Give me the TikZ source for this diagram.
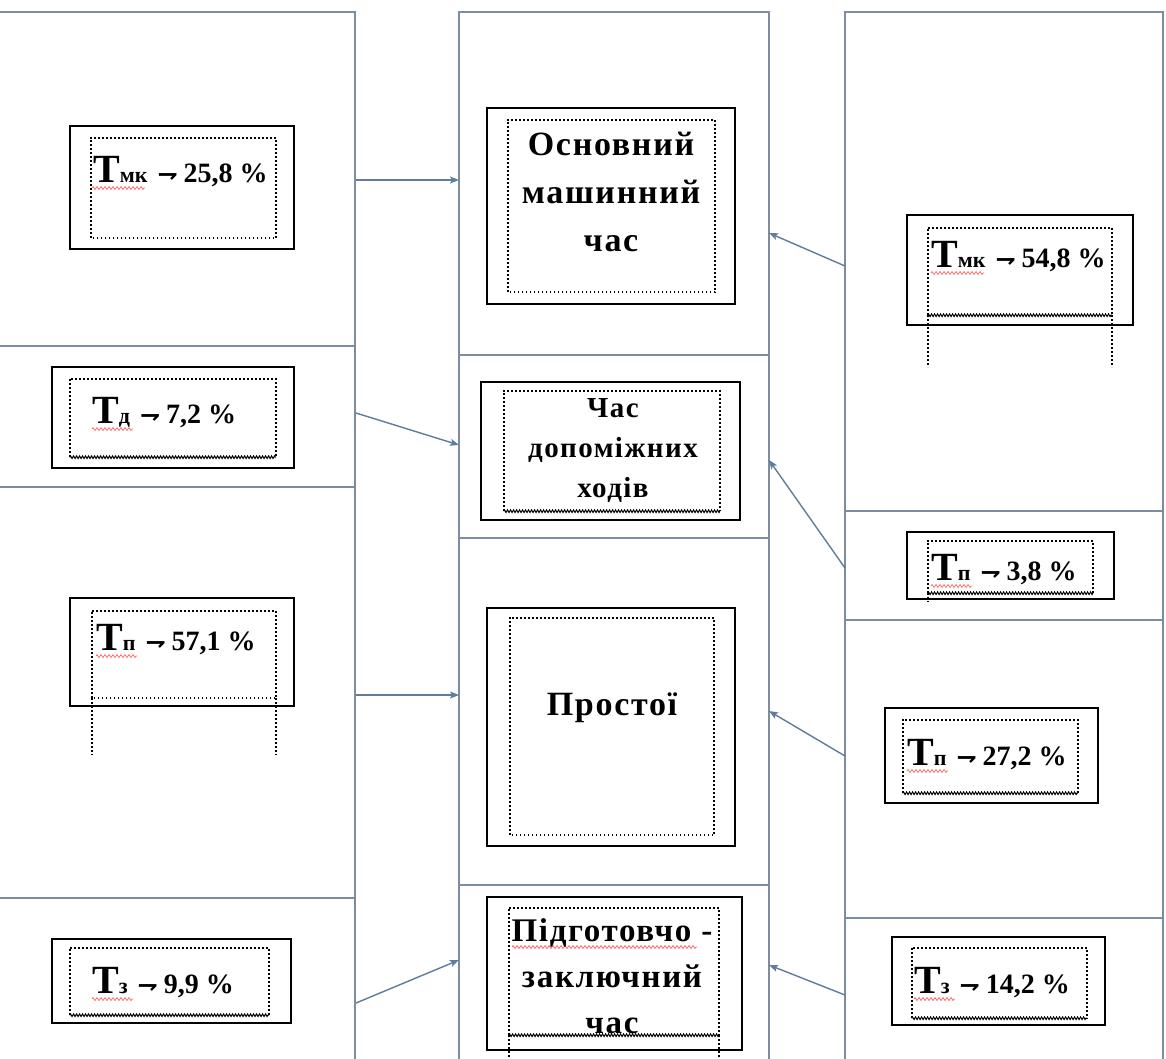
\documentclass[tikz,border=0pt]{standalone}
\usepackage{fontspec}
\setmainfont{Liberation Serif}
\newfontfamily\symf{DejaVu Sans}
\newfontfamily\spacedf[LetterSpace=5]{Liberation Serif}
\usetikzlibrary{arrows.meta,fit,decorations.pathmorphing}
\definecolor{framec}{HTML}{7D8C9E}
\definecolor{connc}{HTML}{5F7D9B}
\tikzset{
  cell/.style={draw=framec,line width=1.6pt,inner sep=0pt},
  obox/.style={draw=black,line width=1.9pt,inner sep=0pt},
  ghost/.style={inner sep=0pt},
  dotbox/.style={draw=black,line width=1.8pt,dash pattern=on 1.8pt off 2.2pt},
  wavy/.style={draw=black,line width=1pt,decorate,decoration={zigzag,segment length=3pt,amplitude=1.3pt}},
  redwavy/.style={draw=red!60!white,line width=0.7pt,decorate,decoration={zigzag,segment length=4pt,amplitude=1.5pt}},
  conn/.style={draw=connc,line width=1.4pt,-{Stealth[length=9pt,width=7pt,inset=2pt]}},
  midtext/.style={align=center,inner sep=0pt},
  lab/.style={anchor=base west,inner sep=0pt,font=\bfseries},
}
\newcommand\tlab[2]{{\fontsize{40}{40}\selectfont Т}{\fontsize{22}{22}\selectfont #1}\hspace{10pt}{\symf\fontsize{24}{24}\selectfont ⇁}\hspace{6pt}{\fontsize{28}{28}\selectfont #2}}
\newcommand\myobox[5]{\node[obox,fit={(#2,#3) (#4,#5)}] (#1) {};}
\newcommand\mydbox[5]{\node[ghost,fit={(#2,#3) (#4,#5)}] (#1) {};
  \draw[dotbox] (#1.south west) -- (#1.north west) -- (#1.north east) -- (#1.south east) -- cycle;}
\newcommand\mywbox[5]{\node[ghost,fit={(#2,#3) (#4,#5)}] (#1) {};
  \draw[dotbox] (#1.south west) -- (#1.north west) -- (#1.north east) -- (#1.south east);
  \draw[wavy] (#1.south west) -- (#1.south east);}
\begin{document}
\begin{tikzpicture}[x=1pt,y=-1pt]
\useasboundingbox (0,0) rectangle (1166,1058);
\fill[white] (0,0) rectangle (1166,1058);
\clip (0,0) rectangle (1166,1058);
% frame cells
\node[cell,fit={(-20,12) (355,346)}] (lA) {};
\node[cell,fit={(-20,346) (355,487)}] (lB) {};
\node[cell,fit={(-20,487) (355,898)}] (lC) {};
\node[cell,fit={(-20,898) (355,1080)}] (lD) {};
\node[cell,fit={(459,12) (769,355)}] (mA) {};
\node[cell,fit={(459,355) (769,538)}] (mB) {};
\node[cell,fit={(459,538) (769,885)}] (mC) {};
\node[cell,fit={(459,885) (769,1080)}] (mD) {};
\node[cell,fit={(845,12) (1163,511)}] (rA) {};
\node[cell,fit={(845,511) (1163,620)}] (rB) {};
\node[cell,fit={(845,620) (1163,918)}] (rC) {};
\node[cell,fit={(845,918) (1163,1080)}] (rD) {};
% left boxes
\myobox{L1o}{70}{126}{294}{249}
\mydbox{L1i}{91}{138}{276}{238}
\myobox{L2o}{52}{367}{294}{468}
\mywbox{L2i}{70}{379}{276}{457}
\myobox{L3o}{70}{598}{294}{706}
\mydbox{L3i}{92}{611}{276}{698}
\draw[dotbox] (L3i.south west) -- ++(0,57);
\draw[dotbox] (L3i.south east) -- ++(0,57);
\myobox{L4o}{52}{939}{291}{1023}
\mywbox{L4i}{70}{948}{269}{1015}
% middle boxes
\myobox{M1o}{487}{108}{735}{304}
\mydbox{M1i}{508}{120}{715}{292}
\myobox{M2o}{481}{382}{740}{520}
\mywbox{M2i}{504}{391}{720}{511}
\myobox{M3o}{487}{608}{735}{846}
\mydbox{M3i}{510}{618}{714}{835}
\myobox{M4o}{487}{897}{742}{1050}
\mywbox{M4i}{509}{908}{719}{1035}
\draw[dotbox] (M4i.south west) -- ++(0,30);
\draw[dotbox] (M4i.south east) -- ++(0,30);
% right boxes
\myobox{R1o}{907}{215}{1133}{325}
\mywbox{R1i}{928}{228}{1112}{315}
\draw[dotbox] (R1i.south west) -- ++(0,52);
\draw[dotbox] (R1i.south east) -- ++(0,52);
\myobox{R2o}{907}{532}{1114}{599}
\mywbox{R2i}{928}{541}{1093}{593}
\draw[dotbox] (R2i.south west) -- ++(0,9);
\myobox{R3o}{885}{708}{1098}{803}
\mywbox{R3i}{903}{720}{1078}{793}
\myobox{R4o}{892}{937}{1105}{1025}
\mywbox{R4i}{912}{948}{1087}{1018}
% labels
\node[lab] (t1) at (93,182) {\tlab{мк}{25,8 \%}};
\node[lab] (t2) at (92,423) {\tlab{д}{7,2 \%}};
\node[lab] (t3) at (96,650) {\tlab{п}{57,1 \%}};
\node[lab] (t4) at (92,993) {\tlab{з}{9,9 \%}};
\node[lab] (t5) at (931,267) {\tlab{мк}{54,8 \%}};
\node[lab] (t6) at (931,580) {\tlab{п}{3,8 \%}};
\node[lab] (t7) at (907,765) {\tlab{п}{27,2 \%}};
\node[lab] (t8) at (914,993) {\tlab{з}{14,2 \%}};
% spell-check squiggles
\draw[redwavy] (92,188) -- (145,188);
\draw[redwavy] (92,429) -- (133,429);
\draw[redwavy] (96,656) -- (137,656);
\draw[redwavy] (92,999) -- (133,999);
\draw[redwavy] (931,273) -- (984,273);
\draw[redwavy] (931,586) -- (972,586);
\draw[redwavy] (907,771) -- (948,771);
\draw[redwavy] (914,999) -- (955,999);
\draw[redwavy] (512,947) -- (697,947);
% middle texts
\node[midtext,font=\spacedf\bfseries\fontsize{34}{48}\selectfont] (x1) at (611,192) {Основний\\машинний\\час};
\node[midtext,font=\spacedf\bfseries\fontsize{29}{40}\selectfont] (x2) at (613,451) {Час\\допоміжних\\ходів};
\node[midtext,font=\spacedf\bfseries\fontsize{34}{40}\selectfont] (x3) at (612,708) {Простої};
\node[midtext,font=\spacedf\bfseries\fontsize{33}{46}\selectfont] (x4) at (612,976) {Підготовчо -\\заключний\\час};
% connector end points
\coordinate (a1) at (356,180); \coordinate (b1) at (459,180);
\coordinate (a2) at (356,413); \coordinate (b2) at (459,445);
\coordinate (a3) at (356,695); \coordinate (b3) at (459,695);
\coordinate (a4) at (356,1003); \coordinate (b4) at (459,960);
\coordinate (c1) at (845,266); \coordinate (d1) at (769,233);
\coordinate (c2) at (845,568); \coordinate (d2) at (769,460);
\coordinate (c3) at (845,756); \coordinate (d3) at (769,711);
\coordinate (c4) at (845,995); \coordinate (d4) at (769,965);
\draw[conn] (a1) -- (b1);
\draw[conn] (a2) -- (b2);
\draw[conn] (a3) -- (b3);
\draw[conn] (a4) -- (b4);
\draw[conn] (c1) -- (d1);
\draw[conn] (c2) -- (d2);
\draw[conn] (c3) -- (d3);
\draw[conn] (c4) -- (d4);
\end{tikzpicture}
\end{document}
